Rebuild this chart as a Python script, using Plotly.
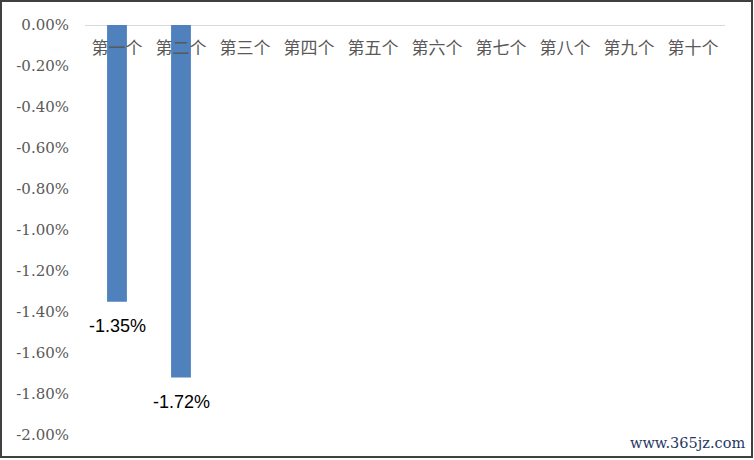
from plotly import graph_objects as go

categories = ["第一个", "第二个", "第三个", "第四个", "第五个",
              "第六个", "第七个", "第八个", "第九个", "第十个"]
values = [-1.35, -1.72, None, None, None, None, None, None, None, None]
y_ticks = [0, -0.2, -0.4, -0.6, -0.8, -1.0, -1.2, -1.4, -1.6, -1.8, -2.0]
y_tick_text = ["0.00%", "-0.20%", "-0.40%", "-0.60%", "-0.80%", "-1.00%",
               "-1.20%", "-1.40%", "-1.60%", "-1.80%", "-2.00%"]
watermark = "www.365jz.com"

W, H = 754, 460
L, R, T, B = 85, 29, 25, 25


def px(x):
    return (x - L) / (W - L - R)


def py(y):
    return (H - B - y) / (H - T - B)


fig = go.Figure()
fig.add_trace(go.Bar(
    x=categories, y=values, width=0.31,
    marker=dict(color="#4F81BD", line=dict(width=0)),
    hoverinfo="skip",
))

# data labels under the bar ends
for c, v in zip(categories, values):
    if v is None:
        continue
    fig.add_annotation(
        x=c, y=v, text="%.2f%%" % v, showarrow=False,
        yanchor="middle", yshift=-24,
        font=dict(family="Liberation Sans", size=18, color="#000000"),
    )

fig.update_layout(
    width=W, height=H,
    margin=dict(l=L, r=R, t=T, b=B),
    paper_bgcolor="white", plot_bgcolor="white",
    showlegend=False,
    xaxis=dict(
        anchor="free", position=py(36), side="bottom", ticks="",
        showline=False, showgrid=False, zeroline=False,
        tickfont=dict(family="Noto Sans CJK SC", size=17, color="#595959"),
    ),
    yaxis=dict(
        range=[-2.0, 0], tickvals=y_ticks, ticktext=y_tick_text,
        showgrid=False, showline=False, ticks="",
        zeroline=True, zerolinecolor="#D9D9D9", zerolinewidth=1,
        tickfont=dict(family="DejaVu Serif", size=15, color="#595959"),
        ticklabelstandoff=15,
    ),
)

fig.add_annotation(
    text=watermark, xref="paper", yref="paper",
    x=px(747), y=py(443), xanchor="right", yanchor="middle",
    showarrow=False,
    font=dict(family="DejaVu Serif", size=14.5, color="#1F3864"),
)

fig.add_shape(
    type="rect", xref="paper", yref="paper",
    x0=px(1), x1=px(752), y0=py(457), y1=py(1),
    line=dict(color="#404040", width=2),
)

fig.write_html("out.html", config={"displayModeBar": False},
               post_script="document.body.style.margin='0';")
